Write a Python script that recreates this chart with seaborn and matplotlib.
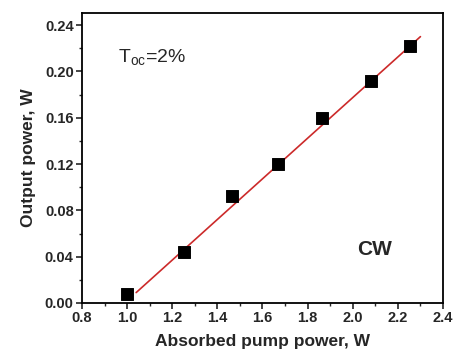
import matplotlib
matplotlib.use("Agg")
import matplotlib.pyplot as plt
import seaborn as sns
import numpy as np
import pandas as pd
from matplotlib.ticker import MultipleLocator

pump = [1.0, 1.25, 1.465, 1.67, 1.865, 2.08, 2.255]
output = [0.008, 0.044, 0.092, 0.120, 0.160, 0.192, 0.222]
fit_x = [1.04, 2.30]
fit_y = [0.009, 0.230]

sns.set_theme(style="ticks")
plt.rcParams['font.family'] = ['Liberation Sans', 'DejaVu Sans']

fig = plt.figure(figsize=(4.53, 3.51), dpi=100)
ax = fig.add_axes([82/453, 1-303/351, 361/453, 290/351])

df = pd.DataFrame({"pump": pump, "out": output})
sns.lineplot(x=fit_x, y=fit_y, ax=ax, color="#cc2a2a", linewidth=1.2)
sns.scatterplot(data=df, x="pump", y="out", ax=ax, marker="s", s=70, color="black", edgecolor="black", zorder=3)

ax.set_xlim(0.8, 2.4)
ax.set_ylim(0, 0.2504)
ax.set_xticks(np.arange(0.8, 2.41, 0.2))
ax.set_xticklabels([f"{v:.1f}" for v in np.arange(0.8, 2.41, 0.2)])
ax.set_yticks(np.arange(0, 0.241, 0.04))
ax.set_yticklabels([f"{v:.2f}" for v in np.arange(0, 0.241, 0.04)])
ax.xaxis.set_minor_locator(MultipleLocator(0.1))
ax.yaxis.set_minor_locator(MultipleLocator(0.02))
ax.tick_params(axis="both", which="major", direction="out", length=4, width=1.2, labelsize=10.5, pad=2)
ax.tick_params(axis="both", which="minor", direction="out", length=2.5, width=1.0)
ax.tick_params(which="both", top=False, right=False)
for lab in ax.get_xticklabels() + ax.get_yticklabels():
    lab.set_fontweight("bold")
for sp in ax.spines.values():
    sp.set_linewidth(1.3)
    sp.set_color("black")

ax.set_xlabel("Absorbed pump power, W", fontsize=12.5, fontweight="bold", labelpad=6)
ax.set_ylabel("Output power, W", fontsize=12.5, fontweight="bold", labelpad=6)

ax.text(0.96, 0.212, r"T$_{\mathregular{oc}}$=2%", fontsize=14, va="center", ha="left")
ax.text(2.02, 0.046, "CW", fontsize=15, fontweight="bold", va="center", ha="left")

fig.savefig("out.png", dpi=100)
